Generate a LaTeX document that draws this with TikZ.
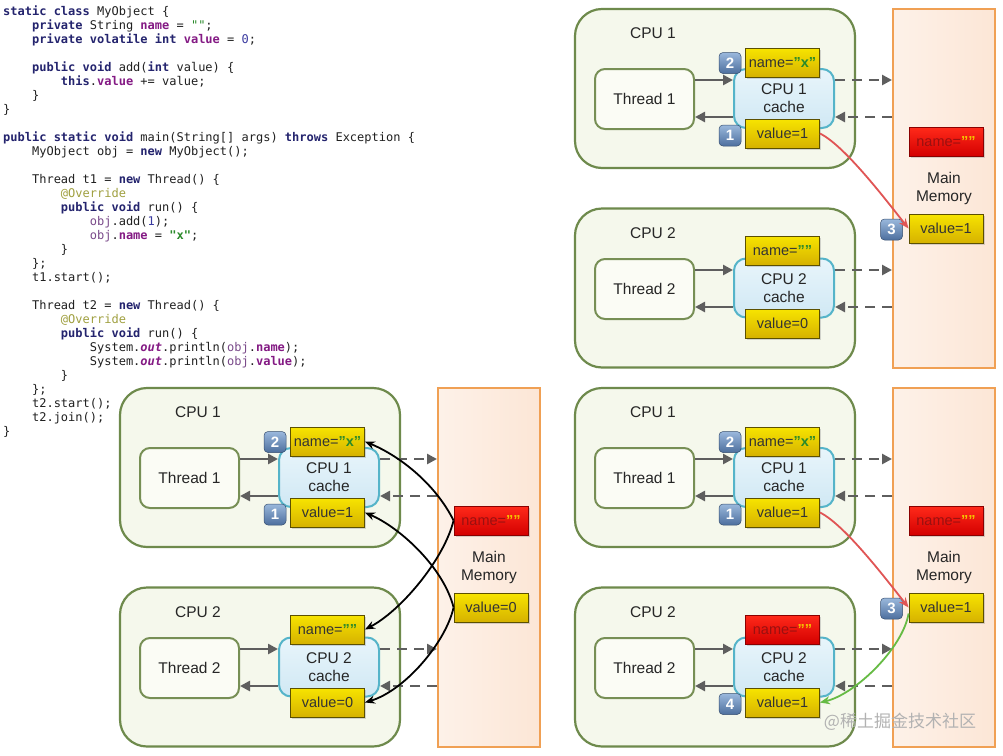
\documentclass[tikz,border=0pt]{standalone}
\usepackage{fontspec}
\setmainfont{Liberation Sans}
\setmonofont{DejaVu Sans Mono}
\newfontfamily\cjkfont{Noto Sans CJK SC}
\usetikzlibrary{arrows.meta,shadows}

\definecolor{kwc}{HTML}{24246E}
\definecolor{fldc}{HTML}{841A84}
\definecolor{strc}{HTML}{2A8A2A}
\definecolor{annc}{HTML}{A0A040}
\definecolor{lvc}{HTML}{7A4A8A}
\definecolor{numc}{HTML}{3A3AA0}
\definecolor{codec}{HTML}{202020}
\definecolor{panelfill}{HTML}{F5F8EC}
\definecolor{paneldraw}{HTML}{6E8A4C}
\definecolor{threadfill}{HTML}{FBFCF5}
\definecolor{threaddraw}{HTML}{778F55}
\definecolor{cachefillA}{HTML}{E8F5FB}
\definecolor{cachefillB}{HTML}{D0E8F4}
\definecolor{cachedraw}{HTML}{55B4C9}
\definecolor{yelA}{HTML}{F7E400}
\definecolor{yelB}{HTML}{D6B200}
\definecolor{yeldraw}{HTML}{5C5000}
\definecolor{redA}{HTML}{FF2A1A}
\definecolor{redB}{HTML}{D40000}
\definecolor{reddraw}{HTML}{8A0000}
\definecolor{redtext}{HTML}{9A1010}
\definecolor{quoteyel}{HTML}{F5C400}
\definecolor{memfill}{HTML}{FCE6D6}
\definecolor{memdraw}{HTML}{F0A054}
\definecolor{badgeA}{HTML}{9AB8DC}
\definecolor{badgeB}{HTML}{4D6F9E}
\definecolor{arrgray}{HTML}{5E5E5E}
\definecolor{redarrow}{HTML}{E05555}
\definecolor{greenarrow}{HTML}{66BB44}

\newcommand\ckw[1]{\textcolor{kwc}{\bfseries #1}}
\newcommand\cfld[1]{\textcolor{fldc}{\bfseries #1}}
\newcommand\cstr[1]{\textcolor{strc}{#1}}
\newcommand\cann[1]{\textcolor{annc}{#1}}
\newcommand\clv[1]{\textcolor{lvc}{#1}}
\newcommand\cnum[1]{\textcolor{numc}{#1}}
\newcommand\cout[1]{\textcolor{fldc}{\bfseries\itshape #1}}
\newcommand\ia{\phantom{0000}}
\newcommand\qx{\textcolor{strc}{\bfseries "x"}}
\newcommand\qe{\textcolor{strc}{\bfseries ""}}
\newcommand\qr{\textcolor{quoteyel}{\bfseries ""}}

\tikzset{
  codeline/.style={anchor=base west, inner sep=0pt, text=codec, font=\ttfamily\fontsize{12}{14}\selectfont},
  panel/.style={draw=paneldraw, line width=2.2pt, fill=panelfill, rounded corners=27pt, minimum width=280pt, minimum height=159pt, inner sep=0pt},
  cpulbl/.style={inner sep=0pt, font=\fontsize{15.5}{18}\selectfont, text=black!85},
  thread/.style={draw=threaddraw, line width=2pt, fill=threadfill, rounded corners=10pt, minimum width=99pt, minimum height=60pt, inner sep=0pt, font=\fontsize{15.5}{18}\selectfont, text=black!85},
  cache/.style={draw=cachedraw, line width=2pt, top color=cachefillA, bottom color=cachefillB, rounded corners=12pt, minimum width=100pt, minimum height=59pt, inner sep=0pt, align=center, font=\fontsize{15.5}{18}\selectfont, text=black!85},
  mem/.style={draw=memdraw, line width=2pt, left color=memfill!55!white, right color=memfill, minimum width=102pt, minimum height=359pt, inner sep=0pt, align=center, font=\fontsize{15.5}{18}\selectfont, text=black!85},
  ybox/.style={draw=yeldraw, line width=0.8pt, top color=yelA, bottom color=yelB, minimum width=74pt, minimum height=29pt, inner sep=0pt, font=\fontsize{14.5}{16}\selectfont, text=black!80, drop shadow={shadow xshift=1.5pt, shadow yshift=-1.5pt, opacity=0.3}},
  rbox/.style={draw=reddraw, line width=0.8pt, top color=redA, bottom color=redB, minimum width=74pt, minimum height=29pt, inner sep=0pt, font=\fontsize{14.5}{16}\selectfont, text=redtext, drop shadow={shadow xshift=1.5pt, shadow yshift=-1.5pt, opacity=0.3}},
  badge/.style={rounded corners=4pt, top color=badgeA, bottom color=badgeB, draw=badgeB!70!black, line width=0.5pt, minimum width=22pt, minimum height=21pt, inner sep=0pt, text=white, font=\bfseries\fontsize{15}{15}\selectfont},
  garrow/.style={draw=arrgray, line width=2.5pt, -{Triangle[length=10pt,width=10pt]}},
  darrow/.style={garrow, dash pattern=on 10pt off 7pt},
  barrow/.style={draw=black, line width=1.8pt, -{Stealth[length=10pt,width=8pt]}},
  rarrow/.style={draw=redarrow, line width=1.8pt, -{Stealth[length=10pt,width=8pt]}},
  grarrow/.style={draw=greenarrow, line width=1.8pt, -{Stealth[length=10pt,width=8pt]}},
}

\newcommand\basescene[1]{%
  \node[panel] (#1pA) at (140,79.5) {};
  \node[panel] (#1pB) at (140,279) {};
  \node[cpulbl] (#1lA) at (78,24) {CPU 1};
  \node[cpulbl] (#1lB) at (78,224) {CPU 2};
  \node[mem] (#1mem) at (369,179.5) {Main\\Memory};
  \node[cache] (#1cA) at (209,89.5) {CPU 1\\cache};
  \node[cache] (#1cB) at (209,279) {CPU 2\\cache};
  \node[thread] (#1tA) at (69.5,90) {Thread 1};
  \node[thread] (#1tB) at (69.5,280) {Thread 2};
  \draw[garrow] ([yshift=19pt]#1tA.east) -- ([yshift=19pt]#1tA.east -| #1cA.west);
  \draw[garrow] ([yshift=-18pt]#1tA.east -| #1cA.west) -- ([yshift=-18pt]#1tA.east);
  \draw[darrow] ([yshift=19pt]#1tA.east -| #1cA.east) -- ([yshift=19pt]#1tA.east -| #1mem.west);
  \draw[darrow] ([yshift=-18pt]#1tA.east -| #1mem.west) -- ([yshift=-18pt]#1tA.east -| #1cA.east);
  \draw[garrow] ([yshift=19pt]#1tB.east) -- ([yshift=19pt]#1tB.east -| #1cB.west);
  \draw[garrow] ([yshift=-18pt]#1tB.east -| #1cB.west) -- ([yshift=-18pt]#1tB.east);
  \draw[darrow] ([yshift=19pt]#1tB.east -| #1cB.east) -- ([yshift=19pt]#1tB.east -| #1mem.west);
  \draw[darrow] ([yshift=-18pt]#1tB.east -| #1mem.west) -- ([yshift=-18pt]#1tB.east -| #1cB.east);
  \node[badge] (#1b2) at (155,54) {2};
  \node[badge] (#1b1) at (155,126.5) {1};
}

\begin{document}
\begin{tikzpicture}[x=1pt, y=-1pt]
\fill[white] (0,0) rectangle (1003,755);
\useasboundingbox (0,0) rectangle (1003,755);

% ---------------- code ----------------
\node[codeline] (l1) at (3,15) {\ckw{static class} MyObject \{};
\node[codeline] (l2) at (3,29) {\ia\ckw{private} String \cfld{name} = \cstr{""};};
\node[codeline] (l3) at (3,43) {\ia\ckw{private volatile int} \cfld{value} = \cnum{0};};
\node[codeline] (l5) at (3,71) {\ia\ckw{public void} add(\ckw{int} value) \{};
\node[codeline] (l6) at (3,85) {\ia\ia\ckw{this}.\cfld{value} += value;};
\node[codeline] (l7) at (3,99) {\ia\}};
\node[codeline] (l8) at (3,113) {\}};
\node[codeline] (l10) at (3,141) {\ckw{public static void} main(String[] args) \ckw{throws} Exception \{};
\node[codeline] (l11) at (3,155) {\ia MyObject obj = \ckw{new} MyObject();};
\node[codeline] (l13) at (3,183) {\ia Thread t1 = \ckw{new} Thread() \{};
\node[codeline] (l14) at (3,197) {\ia\ia\cann{@Override}};
\node[codeline] (l15) at (3,211) {\ia\ia\ckw{public void} run() \{};
\node[codeline] (l16) at (3,225) {\ia\ia\ia\clv{obj}.add(\cnum{1});};
\node[codeline] (l17) at (3,239) {\ia\ia\ia\clv{obj}.\cfld{name} = \cstr{\bfseries "x"};};
\node[codeline] (l18) at (3,253) {\ia\ia\}};
\node[codeline] (l19) at (3,267) {\ia\};};
\node[codeline] (l20) at (3,281) {\ia t1.start();};
\node[codeline] (l22) at (3,309) {\ia Thread t2 = \ckw{new} Thread() \{};
\node[codeline] (l23) at (3,323) {\ia\ia\cann{@Override}};
\node[codeline] (l24) at (3,337) {\ia\ia\ckw{public void} run() \{};
\node[codeline] (l25) at (3,351) {\ia\ia\ia System.\cout{out}.println(\clv{obj}.\cfld{name});};
\node[codeline] (l26) at (3,365) {\ia\ia\ia System.\cout{out}.println(\clv{obj}.\cfld{value});};
\node[codeline] (l27) at (3,379) {\ia\ia\}};
\node[codeline] (l28) at (3,393) {\ia\};};
\node[codeline] (l29) at (3,407) {\ia t2.start();};
\node[codeline] (l30) at (3,421) {\ia t2.join();};
\node[codeline] (l31) at (3,435) {\}};

% ---------------- top right ----------------
\begin{scope}[shift={(575,9)}]
  \basescene{TR-}
  \node[ybox] (TR-nA) at (207.5,53.5) {name=\qx};
  \node[ybox] (TR-vA) at (207.5,124.5) {value=1};
  \node[ybox] (TR-nB) at (207.5,241.5) {name=\qe};
  \node[ybox] (TR-vB) at (207.5,314.5) {value=0};
  \node[rbox] (TR-mn) at (371,132.5) {name=\qr};
  \node[ybox] (TR-mv) at (371,219.5) {value=1};
  \node[badge] (TR-b3) at (316.5,220.5) {3};
  \draw[rarrow] (TR-vA.east) .. controls +(25,12) and +(-20,-25) .. (TR-mv.west);
\end{scope}

% ---------------- bottom left ----------------
\begin{scope}[shift={(120,388)}]
  \basescene{BL-}
  \node[ybox] (BL-nA) at (207.5,53.5) {name=\qx};
  \node[ybox] (BL-vA) at (207.5,124.5) {value=1};
  \node[ybox] (BL-nB) at (207.5,241.5) {name=\qe};
  \node[ybox] (BL-vB) at (207.5,314.5) {value=0};
  \node[rbox] (BL-mn) at (371,132.5) {name=\qr};
  \node[ybox] (BL-mv) at (371,219.5) {value=0};
  \draw[barrow] (BL-mn.west) .. controls +(-18,-36) and +(36,15) .. (BL-nA.east);
  \draw[barrow] (BL-mn.west) .. controls +(-10,40) and +(35,-18) .. (BL-nB.east);
  \draw[barrow] (BL-mv.west) .. controls +(-10,-40) and +(35,15) .. (BL-vA.east);
  \draw[barrow] (BL-mv.west) .. controls +(-8,35) and +(40,-12) .. (BL-vB.east);
\end{scope}

% ---------------- bottom right ----------------
\begin{scope}[shift={(575,388)}]
  \basescene{BR-}
  \node[ybox] (BR-nA) at (207.5,53.5) {name=\qx};
  \node[ybox] (BR-vA) at (207.5,124.5) {value=1};
  \node[rbox] (BR-nB) at (207.5,241.5) {name=\qr};
  \node[ybox] (BR-vB) at (207.5,314.5) {value=1};
  \node[badge] (BR-b4) at (155,316) {4};
  \node[rbox] (BR-mn) at (371,132.5) {name=\qr};
  \node[ybox] (BR-mv) at (371,219.5) {value=1};
  \node[badge] (BR-b3) at (316.5,220.5) {3};
  \draw[rarrow] (BR-vA.east) .. controls +(25,12) and +(-20,-25) .. (BR-mv.west);
  \draw[grarrow] ([yshift=-6pt]BR-mv.west) .. controls +(-6,35) and +(35,-8) .. (BR-vB.east);
\end{scope}

\node[inner sep=0pt, text=gray!60, font=\cjkfont\fontsize{17}{17}\selectfont] (wm) at (900,722) {@稀土掘金技术社区};
\end{tikzpicture}
\end{document}
